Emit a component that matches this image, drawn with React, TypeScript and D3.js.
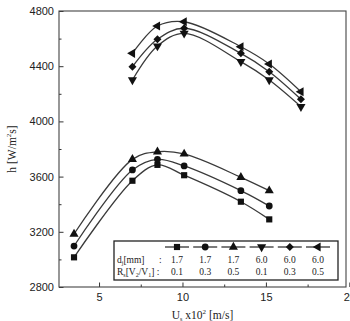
import React, { useEffect, useRef } from 'react';
import * as d3 from 'd3';

// flow velocity U (x10^2 m/s) for each nozzle group
const uSmall = [3.5, 7.0, 8.5, 10.1, 13.5, 15.2];
const uLarge = [7.0, 8.5, 10.1, 13.5, 15.2, 17.1];

// heat transfer coefficient h [W/m2s]
const hD17R01 = [3015, 3570, 3685, 3610, 3418, 3290];
const hD17R03 = [3097, 3648, 3725, 3677, 3498, 3387];
const hD17R05 = [3184, 3725, 3780, 3764, 3595, 3498];
const hD60R01 = [4300, 4546, 4638, 4433, 4300, 4107];
const hD60R03 = [4396, 4595, 4675, 4493, 4360, 4160];
const hD60R05 = [4493, 4691, 4722, 4541, 4416, 4215];

const diameters = ['1.7', '1.7', '1.7', '6.0', '6.0', '6.0'];
const ratios = ['0.1', '0.3', '0.5', '0.1', '0.3', '0.5'];

const yTicks = [2800, 3200, 3600, 4000, 4400, 4800];
const xTicks = [5, 10, 15, 20];

type Marker = 'square' | 'circle' | 'up' | 'down' | 'diamond' | 'left';

const series: { u: number[]; h: number[]; marker: Marker }[] = [
  { u: uSmall, h: hD17R01, marker: 'square' },
  { u: uSmall, h: hD17R03, marker: 'circle' },
  { u: uSmall, h: hD17R05, marker: 'up' },
  { u: uLarge, h: hD60R01, marker: 'down' },
  { u: uLarge, h: hD60R03, marker: 'diamond' },
  { u: uLarge, h: hD60R05, marker: 'left' },
];

function symbolPath(m: Marker) {
  switch (m) {
    case 'square': return { d: d3.symbol(d3.symbolSquare, 38)()!, rot: 0 };
    case 'circle': return { d: d3.symbol(d3.symbolCircle, 36)()!, rot: 0 };
    case 'up': return { d: d3.symbol(d3.symbolTriangle, 36)()!, rot: 0 };
    case 'down': return { d: d3.symbol(d3.symbolTriangle, 36)()!, rot: 180 };
    case 'diamond': return { d: d3.symbol(d3.symbolSquare, 32)()!, rot: 45 };
    case 'left': return { d: d3.symbol(d3.symbolTriangle, 36)()!, rot: -90 };
  }
}

export default function App() {
  const ref = useRef<SVGSVGElement>(null);

  useEffect(() => {
    if (!ref.current) return;
    const svg = d3.select(ref.current);
    svg.selectAll('*').remove();

    const left = 59, right = 346, top = 11, bottom = 287;
    const x = d3.scaleLinear().domain([2.6, 19.8]).range([left, right]);
    const y = d3.scaleLinear().domain([2800, 4800]).range([bottom, top]);

    // minor ticks
    svg.append('g')
      .attr('transform', `translate(0,${bottom})`)
      .call(d3.axisBottom(x).tickValues([7.5, 12.5, 17.5]).tickSizeInner(-2.5).tickSizeOuter(0).tickFormat(() => ''))
      .call(g => g.select('.domain').remove())
      .attr('color', '#333');
    svg.append('g')
      .attr('transform', `translate(${left},0)`)
      .call(d3.axisLeft(y).tickValues([3000, 3400, 3800, 4200, 4600]).tickSizeInner(-2.5).tickSizeOuter(0).tickFormat(() => ''))
      .call(g => g.select('.domain').remove())
      .attr('color', '#333');

    // major ticks
    const xAxis = svg.append('g')
      .attr('transform', `translate(0,${bottom})`)
      .call(d3.axisBottom(x).tickValues(xTicks).tickSizeInner(-4.5).tickSizeOuter(0).tickPadding(6).tickFormat(d3.format('d')))
      .call(g => g.select('.domain').remove())
      .attr('color', '#333');
    xAxis.selectAll('text')
      .attr('fill', '#222')
      .style('font-family', '"Liberation Sans", Arial, sans-serif')
      .style('font-size', '11px');

    const yAxis = svg.append('g')
      .attr('transform', `translate(${left},0)`)
      .call(d3.axisLeft(y).tickValues(yTicks).tickSizeInner(-4.5).tickSizeOuter(0).tickPadding(5).tickFormat(d3.format('d')))
      .call(g => g.select('.domain').remove())
      .attr('color', '#333');
    yAxis.selectAll('text')
      .attr('fill', '#222')
      .style('font-family', '"Liberation Sans", Arial, sans-serif')
      .style('font-size', '11px');

    // frame
    svg.append('rect')
      .attr('x', left).attr('y', top)
      .attr('width', right - left).attr('height', bottom - top)
      .attr('fill', 'none').attr('stroke', '#444').attr('stroke-width', 1.1);

    // curves
    const line = d3.line<[number, number]>()
      .x(d => x(d[0]))
      .y(d => y(d[1]))
      .curve(d3.curveCatmullRom.alpha(0.5));

    series.forEach(s => {
      const pts = s.u.map((u, i) => [u, s.h[i]] as [number, number]);
      svg.append('path')
        .attr('d', line(pts)!)
        .attr('fill', 'none')
        .attr('stroke', '#3a3a3a')
        .attr('stroke-width', 1.3);
    });

    series.forEach(s => {
      const sym = symbolPath(s.marker);
      s.u.forEach((u, i) => {
        svg.append('path')
          .attr('d', sym.d)
          .attr('transform', `translate(${x(u)},${y(s.h[i])}) rotate(${sym.rot})`)
          .attr('fill', '#111');
      });
    });

    // legend
    const lg = svg.append('g');
    lg.append('rect')
      .attr('x', 114).attr('y', 241).attr('width', 224).attr('height', 39)
      .attr('fill', '#fff').attr('stroke', '#222').attr('stroke-width', 1.3);

    const legendX = d3.scalePoint<number>().domain(d3.range(6)).range([177, 318]);
    const serif = '"Liberation Serif", "Times New Roman", serif';

    series.forEach((s, i) => {
      const cx = legendX(i)!;
      lg.append('line')
        .attr('x1', cx - 12).attr('x2', cx + 12)
        .attr('y1', 247).attr('y2', 247)
        .attr('stroke', '#333').attr('stroke-width', 1.3);
      const sym = symbolPath(s.marker);
      lg.append('path')
        .attr('d', sym.d)
        .attr('transform', `translate(${cx},247) rotate(${sym.rot})`)
        .attr('fill', '#111');
      lg.append('text')
        .attr('x', cx).attr('y', 263)
        .attr('text-anchor', 'middle')
        .style('font-family', serif).style('font-size', '9.5px')
        .attr('fill', '#222')
        .text(diameters[i]);
      lg.append('text')
        .attr('x', cx).attr('y', 275)
        .attr('text-anchor', 'middle')
        .style('font-family', serif).style('font-size', '9.5px')
        .attr('fill', '#222')
        .text(ratios[i]);
    });

    const dLabel = lg.append('text')
      .attr('x', 117).attr('y', 263)
      .style('font-family', serif).style('font-size', '9.5px')
      .attr('fill', '#222');
    dLabel.append('tspan').text('d');
    dLabel.append('tspan').attr('dy', 2).style('font-size', '6px').text('j');
    dLabel.append('tspan').attr('dy', -2).text('[mm]');
    lg.append('text')
      .attr('x', 159).attr('y', 263)
      .style('font-family', serif).style('font-size', '9.5px')
      .attr('fill', '#222').text(':');

    const rLabel = lg.append('text')
      .attr('x', 117).attr('y', 275)
      .style('font-family', serif).style('font-size', '9.5px')
      .attr('fill', '#222');
    rLabel.append('tspan').text('R');
    rLabel.append('tspan').attr('dy', 2).style('font-size', '6px').text('s');
    rLabel.append('tspan').attr('dy', -2).text('[V');
    rLabel.append('tspan').attr('dy', 2).style('font-size', '6px').text('2');
    rLabel.append('tspan').attr('dy', -2).text('/V');
    rLabel.append('tspan').attr('dy', 2).style('font-size', '6px').text('1');
    rLabel.append('tspan').attr('dy', -2).text('] :');

    // axis titles
    const xTitle = svg.append('text')
      .attr('x', (left + right) / 2).attr('y', 319)
      .attr('text-anchor', 'middle')
      .style('font-family', serif).style('font-size', '11.5px')
      .attr('fill', '#222');
    xTitle.append('tspan').text('U');
    xTitle.append('tspan').attr('dy', 2).style('font-size', '6px').text('s');
    xTitle.append('tspan').attr('dy', -2).text(' x10');
    xTitle.append('tspan').attr('dy', -5).style('font-size', '7px').text('2');
    xTitle.append('tspan').attr('dy', 5).text(' [m/s]');

    const yTitle = svg.append('text')
      .attr('transform', `translate(16,${(top + bottom) / 2}) rotate(-90)`)
      .attr('text-anchor', 'middle')
      .style('font-family', serif).style('font-size', '11.5px')
      .attr('fill', '#222');
    yTitle.append('tspan').text('h [W/m');
    yTitle.append('tspan').attr('dy', -5).style('font-size', '7px').text('2');
    yTitle.append('tspan').attr('dy', 5).text('s]');
  }, []);

  return (
    <svg
      ref={ref}
      width={350}
      height={321}
      style={{ position: 'absolute', left: 0, top: 0, background: '#fff' }}
    />
  );
}
